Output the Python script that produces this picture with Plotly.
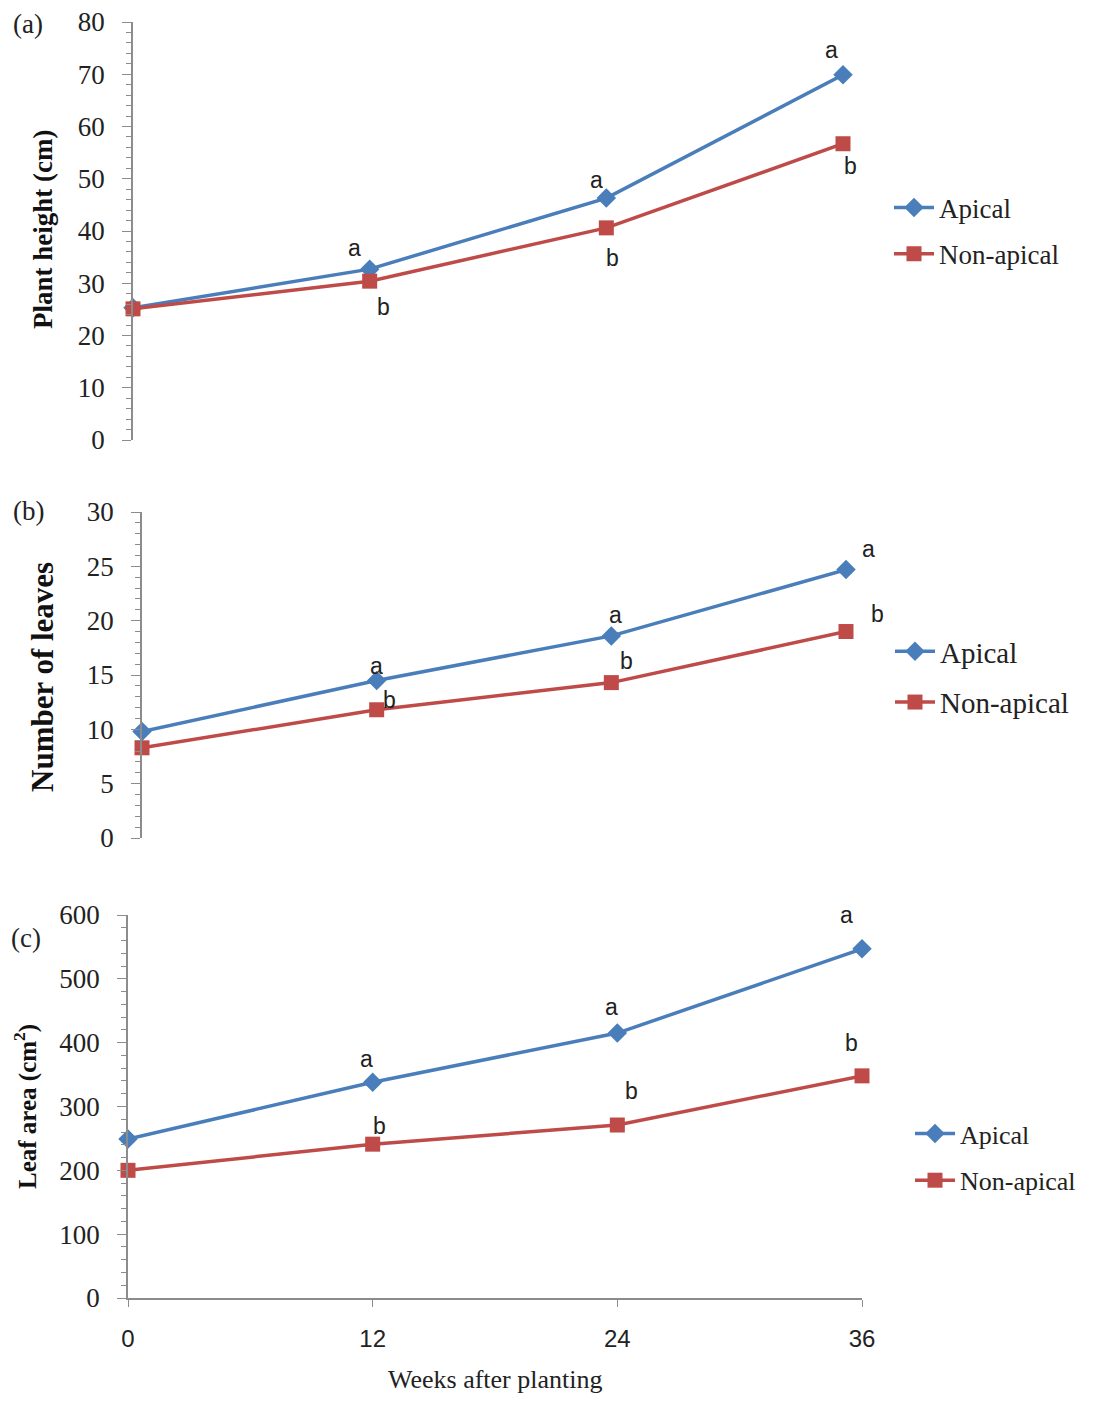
import plotly.graph_objects as go

weeks = [0, 12, 24, 36]
x_ticks = [0, 12, 24, 36]

height_apical = [25.3, 32.7, 46.3, 69.9]
height_nonapical = [25.1, 30.4, 40.6, 56.7]
height_letters_apical = ["", "a", "a", "a"]
height_letters_nonapical = ["", "b", "b", "b"]

leaves_apical = [9.8, 14.5, 18.6, 24.7]
leaves_nonapical = [8.3, 11.8, 14.3, 19.0]
leaves_letters_apical = ["", "a", "a", "a"]
leaves_letters_nonapical = ["", "b", "b", "b"]

area_apical = [249, 338, 415, 547]
area_nonapical = [200, 241, 271, 348]
area_letters_apical = ["", "a", "a", "a"]
area_letters_nonapical = ["", "b", "b", "b"]

BLUE = "#4A7EBB"
RED = "#BE4B48"
SERIF = "Liberation Serif, Times New Roman, serif"
SANS = "Liberation Sans Narrow, Liberation Sans, Arial, sans-serif"
OFF = 8  # default page body margin
W, H = 1102 - 2 * OFF, 1402 - 2 * OFF

def px_x(p):
    return (p - OFF) / W

def px_y(p):
    return 1 - (p - OFF) / H

fig = go.Figure()

panels = [
    dict(ap=height_apical, na=height_nonapical, la=height_letters_apical, ln=height_letters_nonapical,
         xs="x", ys="y", legend="legend"),
    dict(ap=leaves_apical, na=leaves_nonapical, la=leaves_letters_apical, ln=leaves_letters_nonapical,
         xs="x2", ys="y2", legend="legend2"),
    dict(ap=area_apical, na=area_nonapical, la=area_letters_apical, ln=area_letters_nonapical,
         xs="x3", ys="y3", legend="legend3"),
]

for k, p in enumerate(panels):
    fig.add_trace(go.Scatter(x=weeks, y=p["ap"], name="Apical", mode="lines+markers",
                             line=dict(color=BLUE, width=3.5),
                             marker=dict(symbol="diamond", size=15, color=BLUE),
                             legendgroup=f"ap{k}",
                             xaxis=p["xs"], yaxis=p["ys"], legend=p["legend"], cliponaxis=False))
    fig.add_trace(go.Scatter(x=weeks, y=p["na"], name="Non-apical", mode="lines+markers",
                             line=dict(color=RED, width=3.5),
                             marker=dict(symbol="square", size=15, color=RED),
                             legendgroup=f"na{k}",
                             xaxis=p["xs"], yaxis=p["ys"], legend=p["legend"], cliponaxis=False))

# letter shifts (pixels) relative to data points
shifts = [
    dict(a=[(0, 0), (-15, 21), (-10, 18), (-12, 25)], b=[(0, 0), (14, -26), (6, -30), (7, -22)]),
    dict(a=[(0, 0), (0, 14), (4, 21), (22, 21)], b=[(0, 0), (13, 10), (15, 22), (31, 18)]),
    dict(a=[(0, 0), (-6, 23), (-6, 26), (-16, 34)], b=[(0, 0), (7, 18), (14, 34), (-11, 33)]),
]

annotations = []
for p, s in zip(panels, shifts):
    for i, w in enumerate(weeks):
        for key, vals, letters in (("a", p["ap"], p["la"]), ("b", p["na"], p["ln"])):
            if letters[i]:
                dx, dy = s[key][i]
                annotations.append(dict(x=w, y=vals[i], xref=p["xs"], yref=p["ys"], text=letters[i],
                                        showarrow=False, xshift=dx, yshift=dy,
                                        xanchor="center", yanchor="middle",
                                        font=dict(family=SANS, size=23, color="#222")))

# panel labels
for lbl, (x, y) in (("(a)", (28, 24)), ("(b)", (28, 511)), ("(c)", (26, 938))):
    annotations.append(dict(x=px_x(x), y=px_y(y), xref="paper", yref="paper", text=lbl, showarrow=False,
                            xanchor="center", yanchor="middle",
                            font=dict(family=SERIF, size=27, color="#222")))

# axis titles
for txt, (x, y), size in (("<b>Plant height (cm)</b>", (43, 230), 27),
                          ("<b>Number of leaves</b>", (43, 677), 31),
                          ("<b>Leaf area (cm<sup>2</sup>)</b>", (25, 1107), 25)):
    annotations.append(dict(x=px_x(x), y=px_y(y), xref="paper", yref="paper", text=txt, showarrow=False,
                            textangle=-90, xanchor="center", yanchor="middle",
                            font=dict(family=SERIF, size=size, color="#111")))

annotations.append(dict(x=px_x(495), y=px_y(1379), xref="paper", yref="paper", text="Weeks after planting",
                        showarrow=False, xanchor="center", yanchor="middle",
                        font=dict(family=SERIF, size=26, color="#222")))

AXC = "#8c8c8c"

def yax(domain, rng, dtick, minor, anchor):
    return dict(domain=domain, range=rng, dtick=dtick, tick0=0, showgrid=False, zeroline=False,
                showline=True, linecolor=AXC, linewidth=1.5, ticks="outside", ticklen=9, tickcolor=AXC,
                tickwidth=1.2, minor=dict(dtick=minor, ticks="outside", ticklen=5, tickcolor=AXC, tickwidth=1),
                tickfont=dict(family=SERIF, size=27, color="#222"), ticklabelstandoff=12, anchor=anchor,
                ticklabeloverflow="allow", automargin=False)

def leg(x, y, size, gap):
    return dict(x=px_x(x), y=px_y(y), xanchor="left", yanchor="middle", bgcolor="rgba(0,0,0,0)",
                font=dict(family=SERIF, size=size, color="#222"), itemwidth=40,
                traceorder="grouped", tracegroupgap=gap)

layout = dict(
    width=W, height=H, margin=dict(l=0, r=0, t=0, b=0, autoexpand=False),
    plot_bgcolor="white", paper_bgcolor="white", showlegend=True,
    xaxis=dict(domain=[px_x(133), px_x(843)], range=[0, 36], visible=False, anchor="y"),
    xaxis2=dict(domain=[px_x(142), px_x(846)], range=[0, 36], visible=False, anchor="y2"),
    xaxis3=dict(domain=[px_x(128), px_x(862)], range=[0, 36], tickvals=x_ticks, showgrid=False, zeroline=False,
                showline=True, linecolor=AXC, linewidth=1.5, ticks="outside", ticklen=7, tickcolor=AXC,
                tickfont=dict(family=SANS, size=24, color="#222"), ticklabelstandoff=11, anchor="y3",
                ticklabeloverflow="allow", automargin=False),
    yaxis=yax([px_y(440), px_y(22)], [0, 80], 10, 2, "x"),
    yaxis2=yax([px_y(838), px_y(512)], [0, 30], 5, 1, "x2"),
    yaxis3=yax([px_y(1298), px_y(915)], [0, 600], 100, 20, "x3"),
    legend=leg(889, 231, 27, 8),
    legend2=leg(890, 677, 29, 10),
    legend3=leg(910, 1157, 26, 10),
    annotations=annotations,
)
fig.update_layout(**layout)
fig.write_html("out.html")
